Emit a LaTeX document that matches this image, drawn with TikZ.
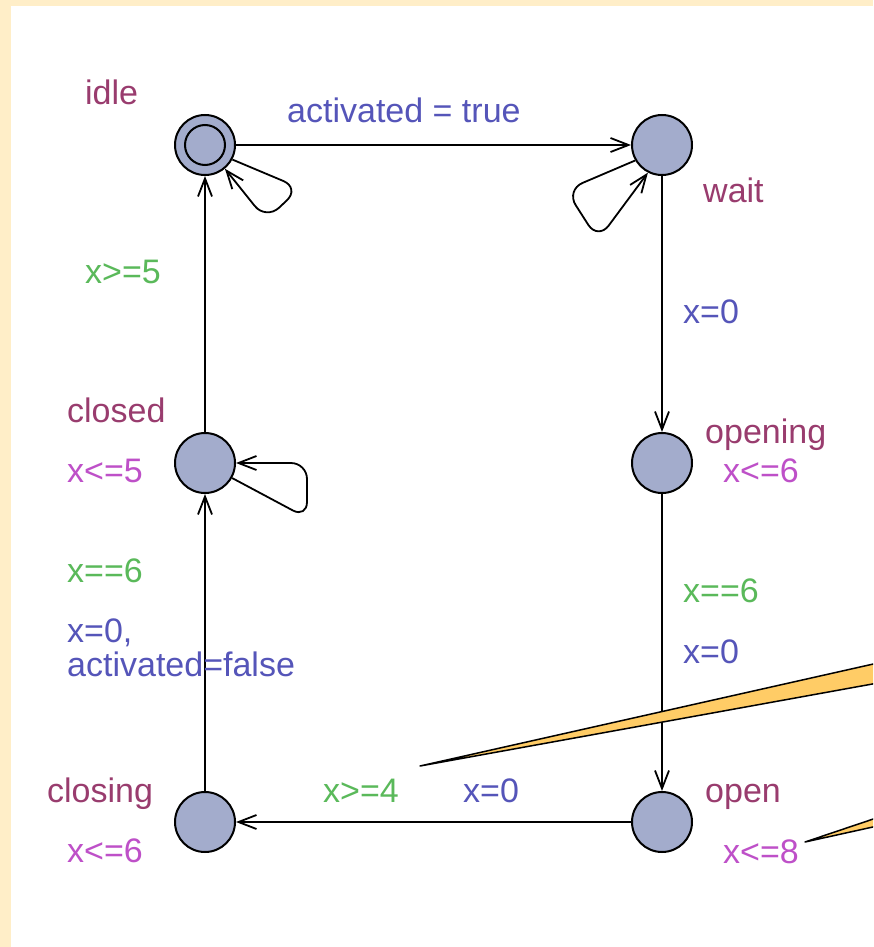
\documentclass[tikz,border=0pt]{standalone}
\usepackage{fontspec}
\setmainfont{Liberation Sans}
\usepackage{xcolor}
\definecolor{upcream}{RGB}{255,238,200}
\definecolor{upstate}{RGB}{163,172,204}
\definecolor{upname}{RGB}{153,60,110}
\definecolor{upinv}{RGB}{190,80,200}
\definecolor{upguard}{RGB}{90,185,90}
\definecolor{upassign}{RGB}{85,85,185}
\definecolor{upnote}{RGB}{255,204,102}
\usetikzlibrary{arrows.meta,positioning}
\tikzset{
  loc/.style={draw, circle, fill=upstate, line width=2pt,
              minimum size=60pt, inner sep=0pt},
  lname/.style={text=upname, anchor=base west, inner sep=0pt},
  linv/.style={text=upinv, anchor=base west, inner sep=0pt},
  lguard/.style={text=upguard, anchor=base west, inner sep=0pt},
  lassign/.style={text=upassign, anchor=base west, inner sep=0pt},
  trans/.style={line width=1.8pt,
                -{Straight Barb[length=18pt,width=14pt,line width=1.8pt]}},
  note/.style={draw, fill=upnote, line width=1.5pt, line join=round},
}

\begin{document}
\begin{tikzpicture}[x=1pt, y=-1pt, font=\fontsize{34}{34}\selectfont]

% Frame
\useasboundingbox (0,0) rectangle (873,947);
\fill[white] (0,0) rectangle (873,947);
\fill[upcream] (0,0) rectangle (11,947);
\fill[upcream] (0,0) rectangle (873,6);

% Locations
\node[loc] (idle) at (205,145) {};
\draw[line width=2pt] (idle.center) circle[radius=20pt];
\node[loc] (wait) at (662,145) {};
\node[loc] (opening) at (662,463) {};
\node[loc] (closed) at (205,463) {};
\node[loc] (closing) at (205,822) {};
\node[loc] (open) at (662,822) {};

% Names and invariants
\node[lname] (nidle) at (85,105) {idle};
\node[lname] (nwait) at (703,202) {wait};
\node[lname] (nopening) at (705,443) {opening};
\node[linv] (iopening) at (723,482) {x<=6};
\node[lname] (nclosed) at (67,422) {closed};
\node[linv] (iclosed) at (67,482) {x<=5};
\node[lname] (nclosing) at (47,802) {closing};
\node[linv] (iclosing) at (67,862) {x<=6};
\node[lname] (nopen) at (705,802) {open};
\node[linv] (iopen) at (723,863) {x<=8};

% Transitions
\draw[trans] (idle) -- (wait);
\draw[trans, rounded corners=18pt] (idle.-28) -- (300,188) -- (266,220) -- (idle.-50);
\draw[trans, rounded corners=18pt] (wait.210) -- (566,190) -- (598,240) -- (wait.243);
\draw[trans] (wait) -- (opening);
\draw[trans] (opening) -- (open);
\draw[trans] (open) -- (closing);
\draw[trans] (closing) -- (closed);
\draw[trans, rounded corners=16pt] (closed.-29) -- (307,518) -- (307,463) -- (closed.east);
\draw[trans] (closed) -- (idle);

% Guards and updates
\node[lassign] (aact) at (287,122) {activated = true};
\node[lassign] (await) at (683,323) {x=0};
\node[lguard] (gopening) at (683,602) {x==6};
\node[lassign] (aopening) at (683,663) {x=0};
\node[lguard] (gopen) at (323,802) {x>=4};
\node[lassign] (aopen) at (463,802) {x=0};
\node[lguard] (gclosing) at (67,582) {x==6};
\node[text=upassign, align=left, anchor=north west, inner sep=0pt]
      (aclosing) at (67,619) {x=0,\\activated=false};
\node[lguard] (gclosed) at (85,283) {x>=5};

% Notes
\coordinate (tipA) at (420,766);
\coordinate (tipB) at (805,842);
\begin{scope}
  \clip (0,0) rectangle (873,947);
  \draw[note] (tipA) -- (900,658) -- (900,679) -- cycle;
  \draw[note] (tipB) -- (900,810) -- (900,821) -- cycle;
\end{scope}

\end{tikzpicture}
\end{document}
